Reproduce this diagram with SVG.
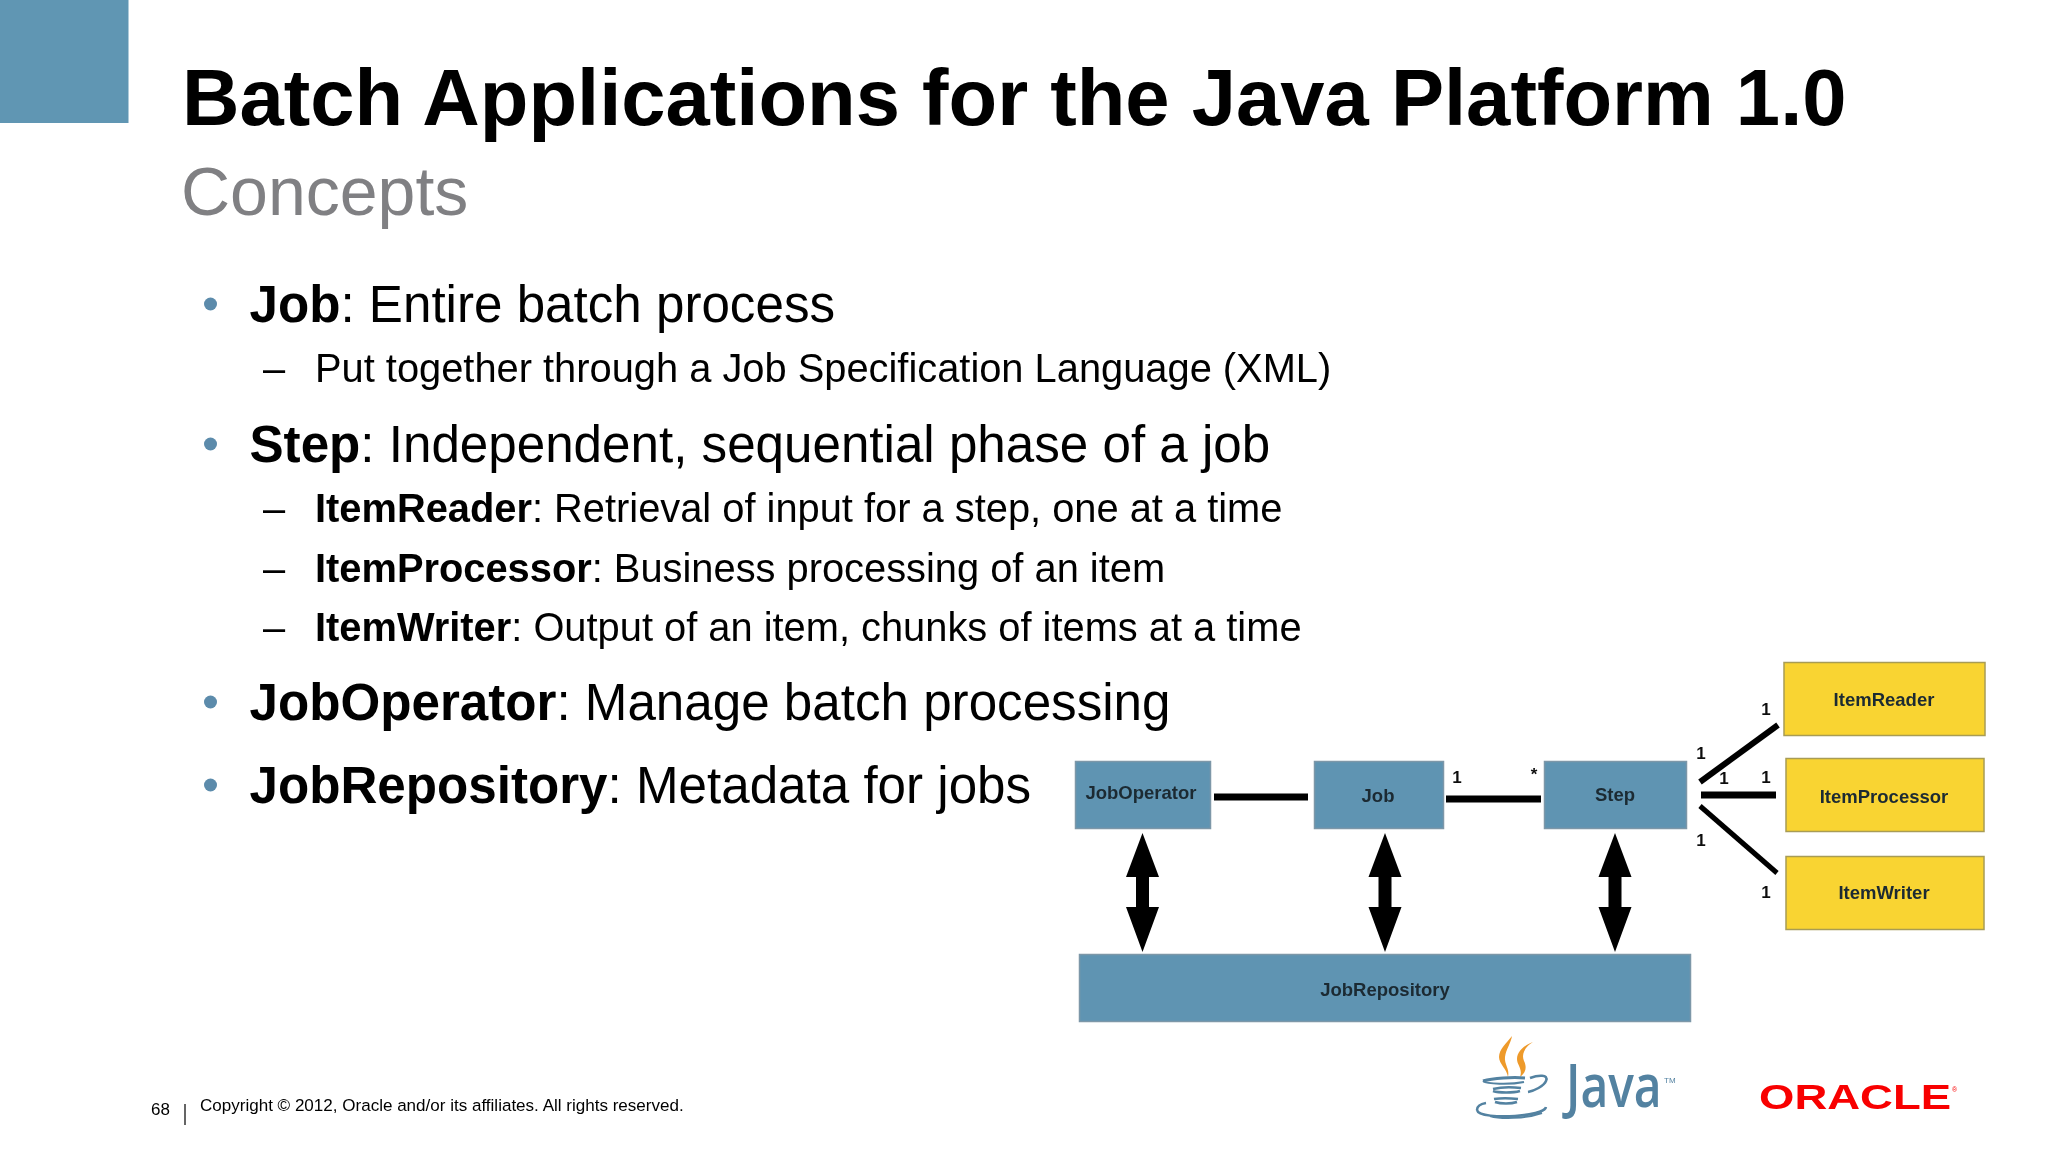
<svg xmlns="http://www.w3.org/2000/svg" width="2048" height="1152" viewBox="0 0 2048 1152">
<style>
text{font-family:"Liberation Sans",Arial,sans-serif;fill:#000}
.l1{font-size:51.150px}
.l2{font-size:39.850px}
.b{font-weight:700}
.dot{fill:#5b8bab}
.nl{font-size:18.500px;font-weight:700;text-anchor:middle;fill:#1c2a33}
.m{font-size:17px;font-weight:700;text-anchor:middle;fill:#111}
.blue{fill:#5f94b2;stroke:#7d97a8;stroke-width:1.500}
.yel{fill:#f9d431;stroke:#a89c55;stroke-width:1.500}
.ln{stroke:#000;fill:none}
</style>
<defs><filter id="soft" x="-2%" y="-2%" width="104%" height="104%"><feGaussianBlur stdDeviation="0.5"/></filter></defs>
<rect width="2048" height="1152" fill="#fff"/>
<g filter="url(#soft)">
<rect x="0" y="0" width="128.500" height="123" fill="#6096b3"/>
<text x="182" y="124.500" font-size="79.600" class="b">Batch Applications for the Java Platform 1.0</text>
<text x="181" y="215" font-size="68" style="fill:#808083">Concepts</text>

<circle class="dot" cx="210.500" cy="304" r="6.500"/>
<text class="l1" x="249.500" y="322"><tspan class="b">Job</tspan>: Entire batch process</text>
<text class="l2" x="263" y="382">–</text>
<text class="l2" x="315" y="382">Put together through a Job Specification Language (XML)</text>
<circle class="dot" cx="210.500" cy="444" r="6.500"/>
<text class="l1" x="249.500" y="462"><tspan class="b">Step</tspan>: Independent, sequential phase of a job</text>
<text class="l2" x="263" y="522">–</text>
<text class="l2" x="315" y="522"><tspan class="b">ItemReader</tspan>: Retrieval of input for a step, one at a time</text>
<text class="l2" x="263" y="582">–</text>
<text class="l2" x="315" y="582"><tspan class="b">ItemProcessor</tspan>: Business processing of an item</text>
<text class="l2" x="263" y="641">–</text>
<text class="l2" x="315" y="641"><tspan class="b">ItemWriter</tspan>: Output of an item, chunks of items at a time</text>
<circle class="dot" cx="210.500" cy="702" r="6.500"/>
<text class="l1" x="249.500" y="720"><tspan class="b">JobOperator</tspan>: Manage batch processing</text>
<circle class="dot" cx="210.500" cy="785" r="6.500"/>
<text class="l1" x="249.500" y="803"><tspan class="b">JobRepository</tspan>: Metadata for jobs</text>

<g id="connectors">
<path class="ln" stroke-width="7" d="M1214 797H1308"/>
<path class="ln" stroke-width="7" d="M1446 799H1541"/>
<path class="ln" stroke-width="7" d="M1701 795H1776"/>
<path class="ln" stroke-width="6" d="M1700 782L1778 725"/>
<path class="ln" stroke-width="5" d="M1700 806L1777 873"/>
<path d="M1142.500 833l16.500 44h-10v30h10l-16.500 45l-16.500-45h10v-30h-10z"/>
<path d="M1385 833l16.500 44h-10v30h10l-16.500 45l-16.500-45h10v-30h-10z"/>
<path d="M1615 833l16.500 44h-10v30h10l-16.500 45l-16.500-45h10v-30h-10z"/>
<text class="m" x="1457" y="783">1</text>
<text class="m" x="1534" y="780">*</text>
<text class="m" x="1766" y="715">1</text>
<text class="m" x="1701" y="759">1</text>
<text class="m" x="1724" y="784">1</text>
<text class="m" x="1766" y="783">1</text>
<text class="m" x="1701" y="846">1</text>
<text class="m" x="1766" y="898">1</text>
</g>

<g id="JobOperator"><rect class="blue" x="1075.500" y="761.500" width="135" height="67"/><text class="nl" x="1141" y="799">JobOperator</text></g>
<g id="Job"><rect class="blue" x="1314.500" y="761.500" width="129" height="67"/><text class="nl" x="1378" y="802">Job</text></g>
<g id="Step"><rect class="blue" x="1544.500" y="761.500" width="142" height="67"/><text class="nl" x="1615" y="801">Step</text></g>
<g id="JobRepository"><rect class="blue" x="1079.500" y="954.500" width="611" height="67"/><text class="nl" x="1385" y="996">JobRepository</text></g>
<g id="ItemReader"><rect class="yel" x="1784" y="662.500" width="201" height="73"/><text class="nl" x="1884" y="706">ItemReader</text></g>
<g id="ItemProcessor"><rect class="yel" x="1786" y="758.500" width="198" height="73"/><text class="nl" x="1884" y="803">ItemProcessor</text></g>
<g id="ItemWriter"><rect class="yel" x="1786" y="856.500" width="198" height="73"/><text class="nl" x="1884" y="899">ItemWriter</text></g>

<g id="footer">
<text x="151" y="1115" font-size="17">68</text>
<path d="M185 1104V1125" stroke="#333" stroke-width="1.500"/>
<text x="200" y="1111" font-size="17.050">Copyright © 2012, Oracle and/or its affiliates. All rights reserved.</text>
</g>

<g id="java-logo">
<path d="M1512 1036c-6 8-13 13-13 21c0 7 8 12 9 20c2-8-4-13-3-20c1-8 6-14 7-21z" fill="#ee9a2c"/>
<path d="M1533 1042c-8 3-16 9-16 17c0 6 6 10 3 18c6-4 7-10 4-16c-3-7 1-14 9-19z" fill="#ee9a2c"/>
<g fill="none" stroke="#5382a1">
<path d="M1483 1081c10-3 30-4 42-3" stroke-width="3"/>
<path d="M1483 1081c4 3 26 4 41 1" stroke-width="2"/>
<path d="M1493 1089c8-2 20-2 28-1M1493 1091c6 2 20 2 27 0" stroke-width="2.500"/>
<path d="M1494 1099c6-1 16-1 24 0M1495 1102c6 2 16 2 22 0" stroke-width="2.500"/>
<path d="M1530 1078c8-3 19-4 16 3c-2 5-12 10-18 11" stroke-width="2.500"/>
<path d="M1477 1110c1 6 22 7 38 6c14-1 30-4 31-9" stroke-width="2.500"/>
<path d="M1486 1103c-6 1-9 4-9 7" stroke-width="2.500"/>
<path d="M1490 1116c10 3 35 3 52-3" stroke-width="2"/>
</g>
<text transform="translate(1566 1107) scale(.8 1)" font-size="60" font-weight="600" style="font-family:'Open Sans',sans-serif;fill:#5382a1">Java</text>
<text x="1664" y="1083" font-size="8" style="fill:#5382a1">TM</text>
</g>
<g id="oracle-logo">
<text transform="translate(1759 1109) scale(1.3 1)" font-size="35" class="b" style="fill:#f80000">ORACLE</text>
<text x="1952" y="1092" font-size="7" style="fill:#f80000">®</text>
</g>
</g>
</svg>
